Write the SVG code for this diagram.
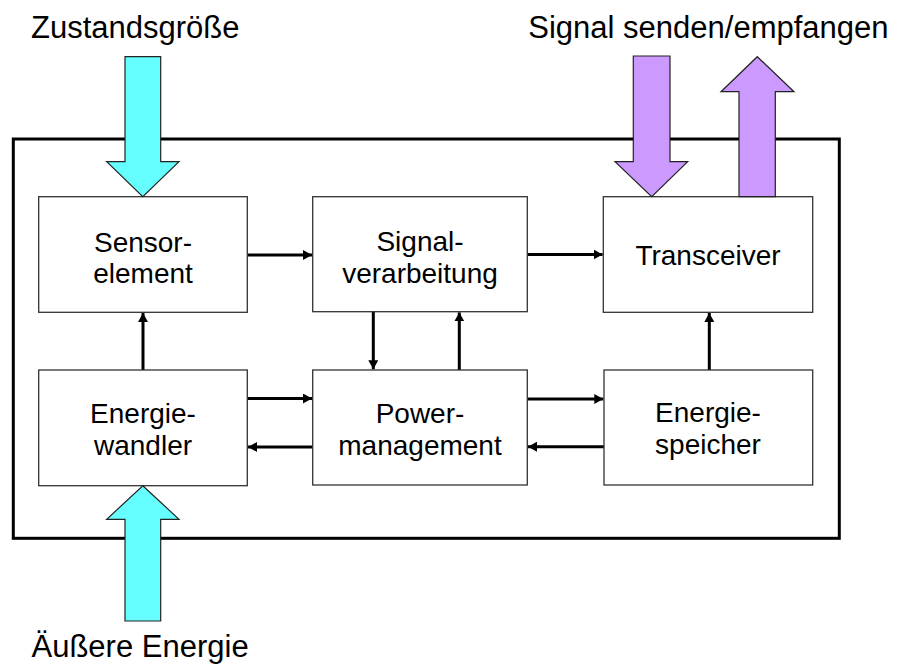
<svg xmlns="http://www.w3.org/2000/svg" width="897" height="666" viewBox="0 0 897 666">
<style>
.box{fill:#fff;stroke:#333;stroke-width:1.3}
.t{font-family:"Liberation Sans",Arial,sans-serif;font-size:28px;fill:#000;text-anchor:middle}
.lbl{font-family:"Liberation Sans",Arial,sans-serif;font-size:31px;fill:#000}
.con{stroke:#000;stroke-width:3;fill:none;marker-end:url(#ah)}
.cy{fill:#66FFFF;stroke:#222;stroke-width:1.2}
.pu{fill:#CC99FF;stroke:#222;stroke-width:1.2}
</style>
<defs>
<marker id="ah" markerUnits="userSpaceOnUse" markerWidth="10" markerHeight="10" refX="9" refY="5" orient="auto">
<path d="M0,0 L9,5 L0,10 Z" fill="#000"/>
</marker>
</defs>
<rect width="897" height="666" fill="#fff"/>
<rect id="frame" x="13.3" y="139" width="826" height="399.3" fill="none" stroke="#000" stroke-width="3"/>
<g id="connectors">
<line class="con" x1="247.3" y1="255" x2="312" y2="255"/>
<line class="con" x1="527.3" y1="254.5" x2="602.6" y2="254.5"/>
<line class="con" x1="143" y1="370" x2="143" y2="313"/>
<line class="con" x1="373.3" y1="311.7" x2="373.3" y2="369.3"/>
<line class="con" x1="459.3" y1="370" x2="459.3" y2="312.4"/>
<line class="con" x1="709.3" y1="370" x2="709.3" y2="313"/>
<line class="con" x1="247.3" y1="398.5" x2="312" y2="398.5"/>
<line class="con" x1="312.7" y1="447" x2="248" y2="447"/>
<line class="con" x1="527.3" y1="399" x2="603.3" y2="399"/>
<line class="con" x1="604" y1="446.7" x2="528" y2="446.7"/>
</g>
<g id="sensorelement">
<rect class="box" x="38.7" y="196.7" width="208.6" height="115.6"/>
<text class="t" x="143" y="251.5">Sensor-</text>
<text class="t" x="143" y="282.5">element</text>
</g>
<g id="signalverarbeitung">
<rect class="box" x="312.7" y="196.7" width="214.6" height="115"/>
<text class="t" x="420" y="251">Signal-</text>
<text class="t" x="420" y="282.5">verarbeitung</text>
</g>
<g id="transceiver">
<rect class="box" x="603.3" y="196.7" width="209.4" height="115.6"/>
<text class="t" x="708" y="265">Transceiver</text>
</g>
<g id="energiewandler">
<rect class="box" x="38.7" y="370" width="208.6" height="115.7"/>
<text class="t" x="143" y="423.3">Energie-</text>
<text class="t" x="143" y="455">wandler</text>
</g>
<g id="powermanagement">
<rect class="box" x="312.7" y="370" width="214.6" height="115"/>
<text class="t" x="420" y="423.3">Power-</text>
<text class="t" x="420" y="454.5">management</text>
</g>
<g id="energiespeicher">
<rect class="box" x="604" y="370" width="208.7" height="115"/>
<text class="t" x="708" y="422">Energie-</text>
<text class="t" x="708" y="454">speicher</text>
</g>
<g id="zustandsgroesse">
<polygon class="cy" points="125,56.7 160.7,56.7 160.7,161.7 179,161.7 142.8,196.7 106.7,161.7 125,161.7"/>
<text class="lbl" x="31" y="38.3">Zustandsgröße</text>
</g>
<g id="aeussere-energie">
<polygon class="cy" points="142.8,485.7 179,519.3 160.7,519.3 160.7,621 125,621 125,519.3 106.7,519.3"/>
<text class="lbl" x="31.5" y="656.7">Äußere Energie</text>
</g>
<g id="signal">
<polygon class="pu" points="633.3,56 670,56 670,161.7 687.7,161.7 651.7,196.7 615,161.7 633.3,161.7"/>
<polygon class="pu" points="757.3,56.7 794,91.7 775.3,91.7 775.3,196.7 739,196.7 739,91.7 721,91.7"/>
<text class="lbl" x="528.3" y="38.3">Signal senden/empfangen</text>
</g>
</svg>
